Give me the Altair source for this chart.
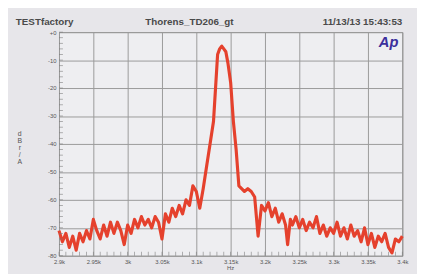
import altair as alt
import pandas as pd

freq = [2900, 2905, 2910, 2915, 2920, 2925, 2930, 2935, 2940, 2945,
        2950, 2955, 2960, 2965, 2970, 2975, 2980, 2985, 2990, 2995,
        3000, 3005, 3010, 3015, 3020, 3025, 3030, 3035, 3040, 3045,
        3050, 3055, 3060, 3065, 3070, 3075, 3080, 3085, 3090, 3095,
        3100, 3105, 3110, 3115, 3120, 3125, 3128, 3131, 3134, 3137,
        3140, 3143, 3146, 3150, 3154, 3158, 3162, 3166, 3170, 3175,
        3180, 3185, 3190, 3195, 3200, 3205, 3210, 3215, 3220, 3225,
        3230, 3233, 3237, 3240, 3245, 3250, 3255, 3260, 3265, 3270,
        3275, 3280, 3285, 3290, 3295, 3300, 3305, 3310, 3315, 3320,
        3325, 3330, 3335, 3340, 3345, 3350, 3355, 3360, 3365, 3370,
        3375, 3380, 3385, 3390, 3395, 3400]
level = [-71, -75, -72, -77, -73, -78, -72, -75, -71, -74,
         -67, -71, -74, -69, -73, -68, -72, -68, -71, -76,
         -69, -72, -67, -70, -66, -69, -67, -70, -66, -68,
         -74, -65, -68, -63, -66, -62, -65, -60, -62, -55,
         -57, -63, -56, -48, -40, -32, -20, -8, -6, -5,
         -6, -7, -11, -18, -32, -42, -55, -56, -57, -56,
         -57, -59, -73, -62, -64, -61, -66, -63, -68, -65,
         -69, -76, -67, -69, -66, -70, -67, -71, -68, -70,
         -66, -72, -69, -73, -70, -72, -68, -73, -70, -74,
         -69, -73, -71, -75, -70, -76, -72, -77, -73, -75,
         -72, -77, -79, -74, -75, -73]

x_tick_values = [2900, 2950, 3000, 3050, 3100, 3150, 3200, 3250, 3300, 3350, 3400]
x_tick_labels = ["2.9k", "2.95k", "3k", "3.05k", "3.1k", "3.15k", "3.2k",
                 "3.25k", "3.3k", "3.35k", "3.4k"]
y_tick_values = [0, -10, -20, -30, -40, -50, -60, -70, -80]
y_tick_labels = ["+0", "-10", "-20", "-30", "-40", "-50", "-60", "-70", "-80"]
x_minor = list(range(2900, 3401, 10))
y_minor = list(range(-80, 1, 2))

header_left = "TESTfactory"
header_mid = "Thorens_TD206_gt"
header_right = "11/13/13 15:43:53"
y_title = ["d", "B", "r", "/", "A"]
x_title = "Hz"
logo = "Ap"

W, H = 350, 228
df = pd.DataFrame({"f": freq, "db": level})

xs = alt.Scale(domain=[2900, 3400], nice=False, zero=False)
ys = alt.Scale(domain=[-80, 0], nice=False, zero=False)

def lookup(vals, labels):
    return "[" + ",".join("'%s'" % l for l in labels) + "][indexof([" + \
        ",".join(str(v) for v in vals) + "], datum.value)]"

common = dict(title=None, grid=True, gridColor="#9a9a9a", gridWidth=1,
              ticks=False, domain=False, labelFontSize=6, labelColor="#555",
              labelPadding=3, labelFont="Liberation Sans", labelOverlap=False)
x_axis = alt.Axis(values=x_tick_values, labelExpr=lookup(x_tick_values, x_tick_labels),
                  labelFlush=False, **common)
y_axis = alt.Axis(values=y_tick_values, labelExpr=lookup(y_tick_values, y_tick_labels),
                  labelFlush=False, **common)

line = alt.Chart(df).mark_line(color="#e5412d", strokeWidth=3.2, strokeJoin="round").encode(
    x=alt.X("f:Q", scale=xs, axis=x_axis),
    y=alt.Y("db:Q", scale=ys, axis=y_axis),
)

xmin = alt.Chart(pd.DataFrame({"f": x_minor})).mark_tick(
    color="#777", thickness=0.8, size=4, orient="vertical").encode(
    x=alt.X("f:Q", scale=xs, axis=x_axis), y=alt.value(H - 2))
ymin = alt.Chart(pd.DataFrame({"db": y_minor})).mark_tick(
    color="#777", thickness=0.8, size=4, orient="horizontal").encode(
    y=alt.Y("db:Q", scale=ys, axis=y_axis), x=alt.value(2))

def txt(t, x, y, **kw):
    return alt.Chart(pd.DataFrame({"t": [0]})).mark_text(text=t, **kw).encode(
        x=alt.value(x), y=alt.value(y))

hdr = dict(font="Liberation Sans", fontWeight="bold", fontSize=10, color="#4a4a4a", baseline="middle")
t1 = txt(header_left, -44, -10, align="left", **hdr)
t2 = txt(header_mid, 133, -10, align="center", **hdr)
t3 = txt(header_right, 350, -10, align="right", **hdr)
t4 = txt(y_title, -40, 100, align="center", baseline="top", fontSize=7, lineHeight=7,
         color="#555", font="Liberation Sans")
t5 = txt(x_title, 175, 241, align="center", baseline="middle", fontSize=6, color="#555",
         font="Liberation Sans")
t6 = txt(logo, 336, 10, align="center", baseline="middle", fontSize=15, fontStyle="italic",
         fontWeight="bold", color="#3b2f9c", font="Liberation Sans")

chart = alt.layer(line, xmin, ymin, t1, t2, t3, t4, t5, t6).properties(
    width=W, height=H,
    autosize=alt.AutoSizeParams(type="none"),
    padding={"left": 52, "top": 22, "right": 15, "bottom": 16},
    background="#e7e6ea",
).configure_view(stroke="#8a8a8a", strokeWidth=1, fill="#eeeef1")

chart.save("out.html", embed_options={"renderer": "svg", "actions": False})
